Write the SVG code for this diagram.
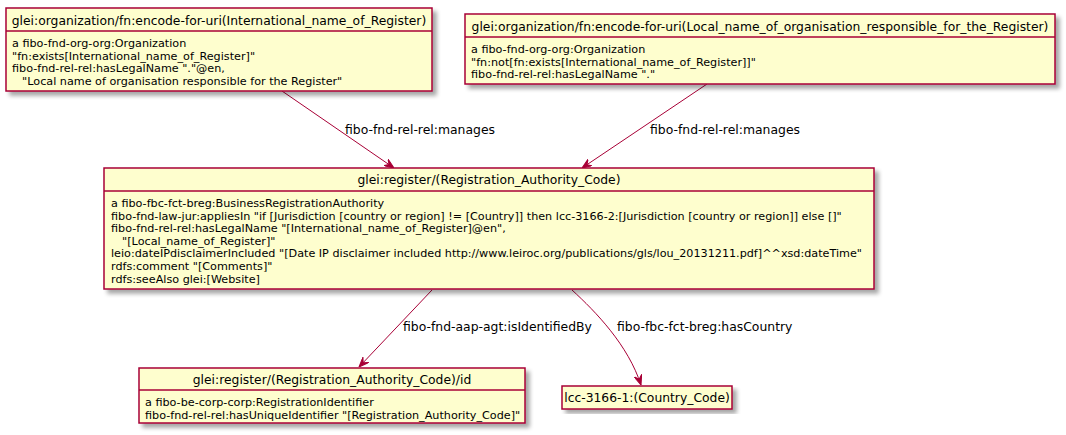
<svg xmlns="http://www.w3.org/2000/svg" width="1066" height="435" viewBox="0 0 1066 435">
<defs>
<filter id="sh" x="-5%" y="-10%" width="115%" height="130%">
<feGaussianBlur in="SourceAlpha" stdDeviation="2"/>
<feOffset dx="4" dy="4" result="b"/>
<feComponentTransfer><feFuncA type="linear" slope="0.35"/></feComponentTransfer>
<feMerge><feMergeNode/><feMergeNode in="SourceGraphic"/></feMerge>
</filter>
<marker id="ah" viewBox="0 0 10 8" refX="10" refY="4" markerWidth="10" markerHeight="8" orient="auto" markerUnits="userSpaceOnUse">
<path d="M0,0 L10,4 L0,8 L4,4 Z" fill="#A80036" stroke="#A80036" stroke-width="1"/>
</marker>
</defs>
<style>
.box{fill:#FEFECE;stroke:#A80036;stroke-width:1.5;}
.div{stroke:#A80036;stroke-width:1.5;}
.t{font-family:"DejaVu Sans",sans-serif;font-size:12.33px;fill:#000;text-anchor:middle;}
.b{font-family:"DejaVu Sans",sans-serif;font-size:11.2px;fill:#000;white-space:pre;}
.e{fill:none;stroke:#A80036;stroke-width:1;}
.l{font-family:"DejaVu Sans",sans-serif;font-size:12.4px;fill:#000;}
</style>
<rect width="1066" height="435" fill="#FFFFFF"/>
<g id="connectors">
<path class="e" d="M282,91 L394,168" marker-end="url(#ah)"/>
<text class="l" x="345" y="134">fibo-fnd-rel-rel:manages</text>
<path class="e" d="M707,84 L582,168" marker-end="url(#ah)"/>
<text class="l" x="650" y="134">fibo-fnd-rel-rel:manages</text>
<path class="e" d="M432,290 L359,367" marker-end="url(#ah)"/>
<text class="l" x="403" y="331">fibo-fnd-aap-agt:isIdentifiedBy</text>
<path class="e" d="M572,290 C596,312 628,345 641,385" marker-end="url(#ah)"/>
<text class="l" x="617" y="331">fibo-fbc-fct-breg:hasCountry</text>
</g>
<g id="node1">
<rect class="box" x="6" y="8" width="426" height="83" filter="url(#sh)"/>
<line class="div" x1="6" y1="31" x2="432" y2="31"/>
<text class="t" x="219" y="25">glei:organization/fn:encode-for-uri(International_name_of_Register)</text>
<text class="b" x="12" y="47">a fibo-fnd-org-org:Organization</text>
<text class="b" x="12" y="59.6">"fn:exists[International_name_of_Register]"</text>
<text class="b" x="12" y="72.2">fibo-fnd-rel-rel:hasLegalName "."@en,</text>
<text class="b" x="15" y="84.8" xml:space="preserve">  "Local name of organisation responsible for the Register"</text>
</g>
<g id="node2">
<rect class="box" x="465" y="14" width="590" height="70" filter="url(#sh)"/>
<line class="div" x1="465" y1="37" x2="1055" y2="37"/>
<text class="t" x="760" y="31">glei:organization/fn:encode-for-uri(Local_name_of_organisation_responsible_for_the_Register)</text>
<text class="b" x="471" y="53">a fibo-fnd-org-org:Organization</text>
<text class="b" x="471" y="65.6">"fn:not[fn:exists[International_name_of_Register]]"</text>
<text class="b" x="471" y="78.2">fibo-fnd-rel-rel:hasLegalName "."</text>
</g>
<g id="node3">
<rect class="box" x="104" y="168" width="770" height="121" filter="url(#sh)"/>
<line class="div" x1="104" y1="191" x2="874" y2="191"/>
<text class="t" x="489" y="184">glei:register/(Registration_Authority_Code)</text>
<text class="b" x="111" y="207">a fibo-fbc-fct-breg:BusinessRegistrationAuthority</text>
<text class="b" x="111" y="219.6">fibo-fnd-law-jur:appliesIn "if [Jurisdiction [country or region] != [Country]] then lcc-3166-2:[Jurisdiction [country or region]] else []"</text>
<text class="b" x="111" y="232.2">fibo-fnd-rel-rel:hasLegalName "[International_name_of_Register]@en",</text>
<text class="b" x="115" y="244.8" xml:space="preserve">  "[Local_name_of_Register]"</text>
<text class="b" x="111" y="257.4">leio:dateIPdisclaimerIncluded "[Date IP disclaimer included http://www.leiroc.org/publications/gls/lou_20131211.pdf]^^xsd:dateTime"</text>
<text class="b" x="111" y="270">rdfs:comment "[Comments]"</text>
<text class="b" x="111" y="282.6">rdfs:seeAlso glei:[Website]</text>
</g>
<g id="node4">
<rect class="box" x="139" y="368" width="386" height="55" filter="url(#sh)"/>
<line class="div" x1="139" y1="390" x2="525" y2="390"/>
<text class="t" x="332" y="384">glei:register/(Registration_Authority_Code)/id</text>
<text class="b" x="145" y="406">a fibo-be-corp-corp:RegistrationIdentifier</text>
<text class="b" x="145" y="418.6">fibo-fnd-rel-rel:hasUniqueIdentifier "[Registration_Authority_Code]"</text>
</g>
<g id="node5">
<rect class="box" x="562" y="386" width="170" height="23" filter="url(#sh)"/>
<text class="t" x="647" y="402">lcc-3166-1:(Country_Code)</text>
</g>
</svg>
